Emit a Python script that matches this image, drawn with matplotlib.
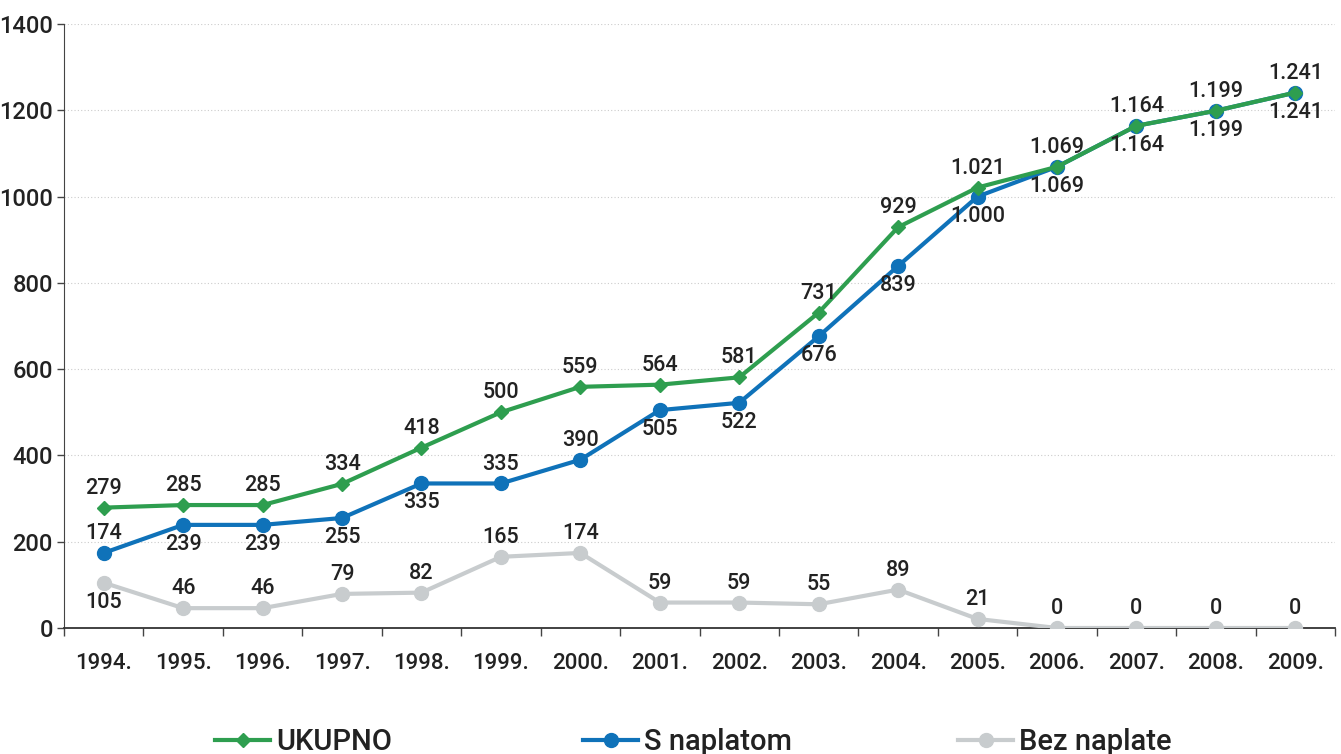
import matplotlib
matplotlib.use("Agg")
import matplotlib.pyplot as plt
from matplotlib.lines import Line2D
import numpy as np

plt.rcParams['font.family'] = ['Roboto', 'DejaVu Sans']

# data
years = ['1994.', '1995.', '1996.', '1997.', '1998.', '1999.', '2000.', '2001.',
         '2002.', '2003.', '2004.', '2005.', '2006.', '2007.', '2008.', '2009.']
ukupno = [279, 285, 285, 334, 418, 500, 559, 564, 581, 731, 929, 1021, 1069, 1164, 1199, 1241]
s_naplatom = [174, 239, 239, 255, 335, 335, 390, 505, 522, 676, 839, 1000, 1069, 1164, 1199, 1241]
bez_naplate = [105, 46, 46, 79, 82, 165, 174, 59, 59, 55, 89, 21, 0, 0, 0, 0]

# label placement: 1 = above, -1 = below
pos_ukupno = [1] * 16
pos_s = [1, -1, -1, -1, -1, 1, 1, -1, -1, -1, -1, -1, -1, -1, -1, -1]
pos_bez = [-1] + [1] * 15

green = '#2E9E4F'
blue = '#0F72B9'
grey = '#C8CCCE'
text_col = '#222222'


def fmt(v):
    return '{:,}'.format(v).replace(',', '.')


fig = plt.figure(figsize=(13.41, 7.54), dpi=100)
ax = fig.add_axes([64 / 1341, 126 / 754, 1271 / 1341, 604 / 754])

x = np.arange(len(years))

ax.plot(x, bez_naplate, color=grey, lw=3, marker='o', ms=10, zorder=3)
ax.plot(x, s_naplatom, color=blue, lw=3, marker='o', ms=10, zorder=4)
ax.plot(x, ukupno, color=green, lw=3, marker='D', ms=7.5, zorder=5)

for series, pos in [(ukupno, pos_ukupno), (s_naplatom, pos_s), (bez_naplate, pos_bez)]:
    for xi, v, p in zip(x, series, pos):
        ax.annotate(fmt(v), (xi, v), xytext=(0, 14 * p), textcoords='offset points',
                    ha='center', va='center', fontsize=15.5, fontweight='medium',
                    color=text_col, zorder=6)

ax.set_xlim(-0.5, len(years) - 0.5)
ax.set_ylim(0, 1400)
ax.set_yticks(np.arange(0, 1401, 200))
ax.tick_params(axis='y', labelsize=17, colors='#444444', labelcolor=text_col, length=5, width=1, pad=3)

ax.set_xticks(x)
ax.set_xticklabels(years)
ax.set_xticks(np.arange(-0.5, len(years)), minor=True)
ax.tick_params(axis='x', which='major', length=0, labelsize=16, labelcolor=text_col, pad=18)
ax.tick_params(axis='x', which='minor', length=6, width=1, color='#444444')
for lbl in ax.get_xticklabels() + ax.get_yticklabels():
    lbl.set_fontweight('medium')

ax.grid(axis='y', linestyle=(0, (1, 2)), color='#cccccc', lw=0.8)
ax.set_axisbelow(True)
for s in ['top', 'right']:
    ax.spines[s].set_visible(False)
ax.spines['left'].set_color('#444444')
ax.spines['bottom'].set_color('#333333')
ax.spines['bottom'].set_linewidth(1.3)

# legend, three separate entries along the bottom
entries = [('UKUPNO', green, 'D', 7.5, 215), ('S naplatom', blue, 'o', 10, 583),
           ('Bez naplate', grey, 'o', 10, 958)]
for name, col, mk, ms, xpx in entries:
    h = Line2D([], [], color=col, lw=3, marker=mk, ms=ms)
    leg = fig.legend([h], [name], loc='center left', bbox_to_anchor=(xpx / 1341, 12 / 754),
                     frameon=False, fontsize=21, handlelength=1.9, handletextpad=0.2,
                     borderpad=0, borderaxespad=0)
    for t in leg.get_texts():
        t.set_color(text_col)
        t.set_fontweight('medium')

fig.savefig('out.png', dpi=100)
